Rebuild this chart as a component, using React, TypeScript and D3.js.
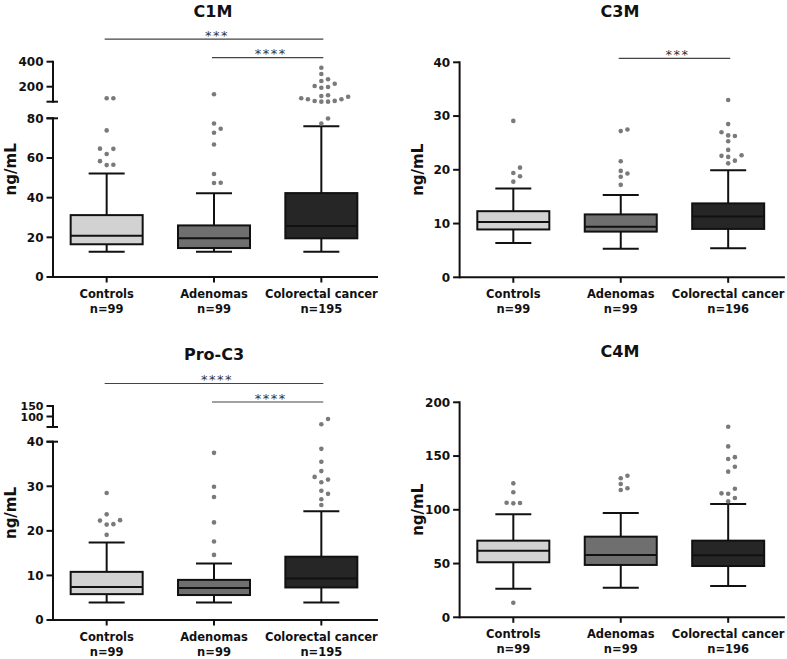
import React from 'react';
import * as d3 from 'd3';

const categories = ['Controls', 'Adenomas', 'Colorectal cancer'];

// ---------- C1M ----------
const c1mN = ['n=99', 'n=99', 'n=195'];
const c1mLow = [12.7, 12.7, 12.7];
const c1mQ1 = [16.5, 14.6, 19.5];
const c1mMedian = [20.8, 19.5, 25.7];
const c1mQ3 = [31.2, 26.0, 42.3];
const c1mHigh = [52.2, 42.2, 76.0];
const c1mOutliers = [
  [56.4, 56.6, 58.4, 62.0, 64.6, 64.7, 73.9, 107, 107],
  [47.4, 47.5, 51.9, 66.8, 72.7, 74.7, 77.4, 139],
  [77.4, 79.9, 80.5, 80.6, 86, 86.5, 99, 99.5, 107, 120, 126, 131, 192, 198, 206, 224, 245, 259, 302, 352],
];
const c1mLowerTicks = [0, 20, 40, 60, 80];
const c1mUpperTicks = [200, 400];
const c1mBrackets = [
  { from: 'Controls', to: 'Colorectal cancer', label: '***' },
  { from: 'Adenomas', to: 'Colorectal cancer', label: '****' },
];

// ---------- C3M ----------
const c3mN = ['n=99', 'n=99', 'n=196'];
const c3mLow = [6.4, 5.3, 5.4];
const c3mQ1 = [8.9, 8.5, 9.0];
const c3mMedian = [10.3, 9.4, 11.3];
const c3mQ3 = [12.3, 11.7, 13.75];
const c3mHigh = [16.5, 15.3, 19.9];
const c3mOutliers = [
  [17.8, 18.8, 19.4, 20.4, 29.1],
  [17.2, 18.7, 19.3, 19.8, 21.6, 27.2, 27.5],
  [21.2, 21.7, 22.4, 22.6, 22.7, 23.7, 25.3, 26.3, 26.4, 27.0, 28.5, 33.0],
];
const c3mTicks = [0, 10, 20, 30, 40];
const c3mBrackets = [{ from: 'Adenomas', to: 'Colorectal cancer', label: '***' }];

// ---------- Pro-C3 ----------
const proN = ['n=99', 'n=99', 'n=195'];
const proLow = [3.9, 3.9, 3.9];
const proQ1 = [5.8, 5.6, 7.3];
const proMedian = [7.4, 7.2, 9.3];
const proQ3 = [10.8, 9.0, 14.2];
const proHigh = [17.4, 12.7, 24.4];
const proOutliers = [
  [19.1, 21.4, 21.5, 22.3, 22.4, 23.7, 28.5],
  [14.6, 17.6, 21.9, 27.6, 29.9, 37.5],
  [25.8, 27.1, 28.3, 29.0, 30.9, 31.5, 32.1, 33.4, 35.5, 38.4, 63, 88],
];
const proLowerTicks = [0, 10, 20, 30, 40];
const proUpperTicks = [100, 150];
const proBrackets = [
  { from: 'Controls', to: 'Colorectal cancer', label: '****' },
  { from: 'Adenomas', to: 'Colorectal cancer', label: '****' },
];

// ---------- C4M ----------
const c4mN = ['n=99', 'n=99', 'n=196'];
const c4mLow = [26.6, 27.6, 29.1];
const c4mQ1 = [51.2, 48.7, 47.7];
const c4mMedian = [62.0, 58.0, 57.7];
const c4mQ3 = [71.3, 75.0, 71.3];
const c4mHigh = [95.8, 97.0, 105.4];
const c4mOutliers = [
  [13.6, 106, 106.3, 106.6, 116.3, 124.6],
  [118.4, 120, 124, 129.3, 131.7],
  [108, 111, 115, 115.3, 119.6, 135.5, 140, 147.3, 149, 159, 177.3],
];
const c4mTicks = [0, 50, 100, 150, 200];

const FONT = '"DejaVu Sans", sans-serif';
const BOX_FILLS = ['#d2d2d2', '#6f6f6f', '#262626'];
const DOT = '#7a7a7a';

type Segment = {
  domain: [number, number];
  range: [number, number];
  ticks: number[];
};

type Bracket = { from: string; to: string; label: string };

type PanelProps = {
  title: string;
  titleX: number;
  titleY: number;
  xRange: [number, number];
  segments: Segment[];
  low: number[];
  q1: number[];
  median: number[];
  q3: number[];
  high: number[];
  outliers: number[][];
  ns: string[];
  brackets: Bracket[];
  labelX: number;
};

function swarm(ys: number[], pitch: number, minDy: number): number[] {
  const order = ys.map((_, i) => i).sort((a, b) => ys[b] - ys[a]);
  const placed: { slot: number; y: number }[] = [];
  const slots: number[] = new Array(ys.length).fill(0);
  for (const i of order) {
    for (let k = 0; k < 50; k++) {
      const s = k === 0 ? 0 : k % 2 === 1 ? (k + 1) / 2 : -k / 2;
      if (!placed.some((p) => p.slot === s && Math.abs(p.y - ys[i]) < minDy)) {
        slots[i] = s;
        placed.push({ slot: s, y: ys[i] });
        break;
      }
    }
  }
  return slots.map((s) => s * pitch);
}

function Panel(p: PanelProps) {
  const x = d3.scaleBand<string>().domain(categories).range(p.xRange);
  const bw = x.bandwidth();
  const cx = (c: string) => (x(c) as number) + bw / 2;
  const boxW = 72;
  const scales = p.segments.map((s) => d3.scaleLinear().domain(s.domain).range(s.range));
  const y = (v: number) => {
    for (let i = 0; i < p.segments.length; i++) {
      if (v <= p.segments[i].domain[1] || i === p.segments.length - 1) return scales[i](v);
    }
    return scales[0](v);
  };
  const axX = p.xRange[0];
  const y0 = scales[0](0);
  const topY = scales[scales.length - 1](p.segments[p.segments.length - 1].domain[1]);
  const axEnd = p.xRange[1] + 3;
  const upper = p.segments.length > 1;

  return (
    <g>
      <text x={p.titleX} y={p.titleY} textAnchor="middle" fontFamily={FONT} fontWeight="bold" fontSize={16} fill="#111">
        {p.title}
      </text>
      {/* y label */}
      <text
        transform={`translate(${p.labelX},${(topY + y0) / 2}) rotate(-90)`}
        textAnchor="middle"
        dominantBaseline="central"
        fontFamily={FONT}
        fontWeight="bold"
        fontSize={15}
        fill="#111"
      >
        ng/mL
      </text>
      {/* y axis segments */}
      {p.segments.map((s, i) => {
        const sc = scales[i];
        const yb = sc(s.domain[0]);
        const yt = sc(s.domain[1]);
        const hasAbove = i < p.segments.length - 1;
        const isUpper = i > 0;
        const tight = isUpper && Math.abs(sc(s.ticks[0]) - sc(s.ticks[s.ticks.length - 1])) < 14;
        return (
          <g key={'seg' + i}>
            <line x1={axX} x2={axX} y1={yb} y2={yt} stroke="#111" strokeWidth={2} strokeLinecap="square" />
            {s.ticks.map((t) => (
              <g key={t}>
                <line x1={axX - 6.5} x2={axX} y1={sc(t)} y2={sc(t)} stroke="#111" strokeWidth={2} />
                <text
                  x={axX - 9.5}
                  y={sc(t)}
                  dy="0.37em"
                  textAnchor="end"
                  fontFamily={FONT}
                  fontWeight="bold"
                  fontSize={tight ? 11 : 12}
                  fill="#111"
                >
                  {t}
                </text>
              </g>
            ))}
            {hasAbove && <line x1={axX - 6.5} x2={axX + 5} y1={yt} y2={yt} stroke="#111" strokeWidth={2} />}
            {isUpper && <line x1={axX - 6.5} x2={axX + 5} y1={yb} y2={yb} stroke="#111" strokeWidth={2} />}
          </g>
        );
      })}
      {/* x axis */}
      <line x1={axX} x2={axEnd} y1={y0} y2={y0} stroke="#111" strokeWidth={2} />
      {categories.map((c, i) => (
        <g key={'xt' + c}>
          <line x1={cx(c)} x2={cx(c)} y1={y0} y2={y0 + 5.5} stroke="#111" strokeWidth={2} />
          <text x={cx(c)} y={y0 + 21} textAnchor="middle" fontFamily={FONT} fontWeight="bold" fontSize={11.5} fill="#111">
            {c}
          </text>
          <text x={cx(c)} y={y0 + 36} textAnchor="middle" fontFamily={FONT} fontWeight="bold" fontSize={11.5} fill="#111">
            {p.ns[i]}
          </text>
        </g>
      ))}
      {/* boxes */}
      {categories.map((c, i) => {
        const xc = cx(c);
        return (
          <g key={'box' + c}>
            <line x1={xc} x2={xc} y1={y(p.low[i])} y2={y(p.q1[i])} stroke="#111" strokeWidth={2} />
            <line x1={xc} x2={xc} y1={y(p.q3[i])} y2={y(p.high[i])} stroke="#111" strokeWidth={2} />
            <line x1={xc - boxW / 4} x2={xc + boxW / 4} y1={y(p.low[i])} y2={y(p.low[i])} stroke="#111" strokeWidth={2} />
            <line x1={xc - boxW / 4} x2={xc + boxW / 4} y1={y(p.high[i])} y2={y(p.high[i])} stroke="#111" strokeWidth={2} />
            <rect
              x={xc - boxW / 2}
              y={y(p.q3[i])}
              width={boxW}
              height={y(p.q1[i]) - y(p.q3[i])}
              fill={BOX_FILLS[i]}
              stroke="#111"
              strokeWidth={2}
            />
            <line x1={xc - boxW / 2} x2={xc + boxW / 2} y1={y(p.median[i])} y2={y(p.median[i])} stroke="#111" strokeWidth={2} />
          </g>
        );
      })}
      {/* outliers */}
      {categories.map((c, i) => {
        const ys = p.outliers[i].map(y);
        const offs = swarm(ys, 6.7, 5.5);
        return (
          <g key={'out' + c}>
            {ys.map((yy, j) => (
              <circle key={j} cx={cx(c) + offs[j]} cy={yy} r={2.3} fill={DOT} />
            ))}
          </g>
        );
      })}
      {/* brackets */}
      {p.brackets.map((b, i) => {
        const span = categories.indexOf(b.to) - categories.indexOf(b.from);
        const ly = topY - 4 - (span - 1) * 18.5;
        const x1 = cx(b.from) - 2;
        const x2 = cx(b.to) + 2;
        return (
          <g key={'br' + i}>
            <line x1={x1} x2={x2} y1={ly} y2={ly} stroke="#444" strokeWidth={1.2} />
            <text
              x={(x1 + x2) / 2 + 3}
              y={ly + 0.5}
              textAnchor="middle"
              fontFamily={FONT}
              fontSize={13}
              letterSpacing={1.5}
              fill="#333"
            >
              {b.label}
            </text>
          </g>
        );
      })}
    </g>
  );
}

export default function App() {
  return (
    <svg
      width={787}
      height={659}
      style={{ position: 'absolute', left: 0, top: 0, background: '#fff' }}
    >
      <rect x={0} y={0} width={787} height={659} fill="#fff" />
      <Panel
        title="C1M"
        titleX={213}
        titleY={17}
        xRange={[53, 375]}
        segments={[
          { domain: [0, 80], range: [277, 118.3], ticks: c1mLowerTicks },
          { domain: [80, 400], range: [101.7, 61.7], ticks: c1mUpperTicks },
        ]}
        low={c1mLow}
        q1={c1mQ1}
        median={c1mMedian}
        q3={c1mQ3}
        high={c1mHigh}
        outliers={c1mOutliers}
        ns={c1mN}
        brackets={c1mBrackets}
        labelX={11}
      />
      <Panel
        title="C3M"
        titleX={620}
        titleY={17}
        xRange={[459.6, 781.9]}
        segments={[{ domain: [0, 40], range: [277.3, 62.3], ticks: c3mTicks }]}
        low={c3mLow}
        q1={c3mQ1}
        median={c3mMedian}
        q3={c3mQ3}
        high={c3mHigh}
        outliers={c3mOutliers}
        ns={c3mN}
        brackets={c3mBrackets}
        labelX={417.7}
      />
      <Panel
        title="Pro-C3"
        titleX={214}
        titleY={360}
        xRange={[53, 375]}
        segments={[
          { domain: [0, 40], range: [620, 441.7], ticks: proLowerTicks },
          { domain: [50, 150], range: [427, 406], ticks: proUpperTicks },
        ]}
        low={proLow}
        q1={proQ1}
        median={proMedian}
        q3={proQ3}
        high={proHigh}
        outliers={proOutliers}
        ns={proN}
        brackets={proBrackets}
        labelX={11}
      />
      <Panel
        title="C4M"
        titleX={620}
        titleY={357}
        xRange={[459.6, 781.9]}
        segments={[{ domain: [0, 200], range: [617.3, 402.3], ticks: c4mTicks }]}
        low={c4mLow}
        q1={c4mQ1}
        median={c4mMedian}
        q3={c4mQ3}
        high={c4mHigh}
        outliers={c4mOutliers}
        ns={c4mN}
        brackets={[]}
        labelX={417.7}
      />
    </svg>
  );
}
